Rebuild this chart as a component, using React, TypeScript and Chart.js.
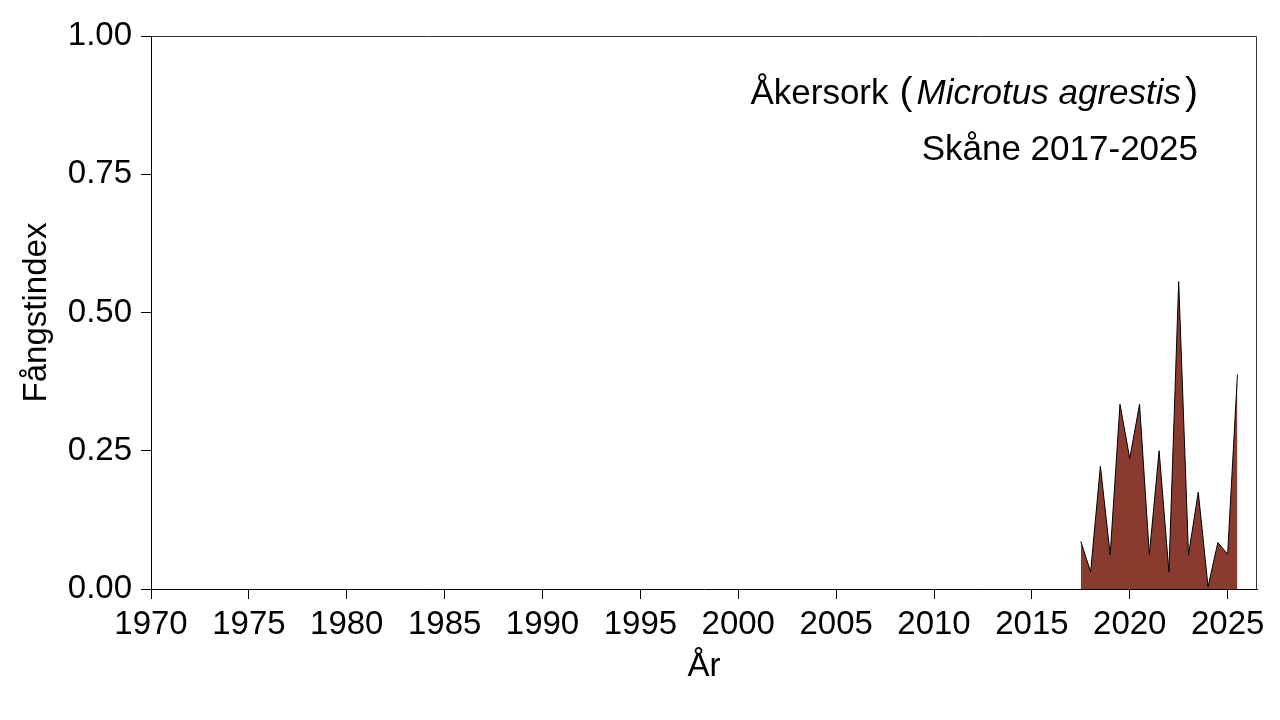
import React, { useEffect, useRef } from "react";
import { Chart, registerables } from "chart.js";

Chart.register(...registerables);

// ---- Data ----
const seasons = [
  2017.5, 2018, 2018.5, 2019, 2019.5, 2020, 2020.5, 2021, 2021.5, 2022,
  2022.5, 2023, 2023.5, 2024, 2024.5, 2025, 2025.5,
];
const indexValues = [
  0.086, 0.031, 0.222, 0.062, 0.334, 0.236, 0.334, 0.062, 0.25, 0.031,
  0.556, 0.062, 0.175, 0.004, 0.084, 0.063, 0.388,
];
const xTickValues = [
  1970, 1975, 1980, 1985, 1990, 1995, 2000, 2005, 2010, 2015, 2020, 2025,
];
const yTickValues = [0, 0.25, 0.5, 0.75, 1];
const titleCommon = "Åkersork";
const titleLatin = "Microtus agrestis";
const subtitle = "Skåne 2017-2025";
const xAxisTitle = "År";
const yAxisTitle = "Fångstindex";

const FONT = '"Liberation Sans", Arial, Helvetica, sans-serif';
const FILL = "#8a3b2f";

const framePlugin = {
  id: "frame",
  afterDraw(chart: any) {
    const { ctx, chartArea } = chart;
    const l = Math.round(chartArea.left) + 0.5;
    const r = Math.round(chartArea.right) - 0.5;
    const t = Math.round(chartArea.top) + 0.5;
    const b = Math.round(chartArea.bottom) + 0.5;
    ctx.save();
    ctx.strokeStyle = "#333";
    ctx.lineWidth = 1;
    ctx.beginPath();
    ctx.moveTo(l, t);
    ctx.lineTo(r, t);
    ctx.lineTo(r, b);
    ctx.stroke();
    ctx.restore();
  },
};

const annotationPlugin = {
  id: "annot",
  afterDraw(chart: any) {
    const { ctx, chartArea } = chart;
    const right = chartArea.right - 59;
    const y1 = chartArea.top + 68;
    const y2 = chartArea.top + 124;
    const fN = `35px ${FONT}`;
    const fI = `italic 35px ${FONT}`;
    const fP = `39px ${FONT}`;
    ctx.save();
    ctx.fillStyle = "#000";
    ctx.textBaseline = "alphabetic";
    ctx.textAlign = "left";
    ctx.font = fP;
    const wR = ctx.measureText(")").width;
    const wL = ctx.measureText("(").width;
    ctx.font = fI;
    const wLat = ctx.measureText(titleLatin).width;
    ctx.font = fN;
    const wCom = ctx.measureText(titleCommon).width;
    let x = right - wR;
    ctx.font = fP;
    ctx.fillText(")", x, y1);
    x -= 4 + wLat;
    ctx.font = fI;
    ctx.fillText(titleLatin, x, y1);
    x -= 4 + wL;
    ctx.font = fP;
    ctx.fillText("(", x, y1);
    x -= 11 + wCom;
    ctx.font = fN;
    ctx.fillText(titleCommon, x, y1);
    ctx.textAlign = "right";
    ctx.fillText(subtitle, right, y2);
    ctx.restore();
  },
};

export default function App() {
  const ref = useRef<HTMLCanvasElement | null>(null);
  useEffect(() => {
    if (!ref.current) return;
    const tickFont = { family: FONT, size: 33 };
    const chart = new Chart(ref.current, {
      type: "line",
      data: {
        datasets: [
          {
            data: seasons.map((s, i) => ({ x: s, y: indexValues[i] })),
            borderColor: "#000",
            borderWidth: 1,
            backgroundColor: FILL,
            fill: "origin",
            pointRadius: 0,
            tension: 0,
          },
        ],
      },
      options: {
        animation: false,
        responsive: false,
        devicePixelRatio: 1,
        layout: { padding: { top: 36, right: 23, left: 0, bottom: 0 } },
        plugins: {
          legend: { display: false },
          tooltip: { enabled: false },
        },
        scales: {
          x: {
            type: "linear",
            min: 1970,
            max: 2026.5,
            afterFit(scale: any) {
              scale.height = 131;
            },
            afterBuildTicks(scale: any) {
              scale.ticks = xTickValues.map((v) => ({ value: v }));
            },
            ticks: {
              color: "#000",
              font: tickFont,
              padding: 6,
              maxRotation: 0,
              autoSkip: false,
              callback: (v: any) => String(v),
            },
            grid: {
              drawOnChartArea: false,
              drawTicks: true,
              tickLength: 10,
              tickColor: "#000",
              color: "#000",
            },
            border: { display: true, color: "#000", width: 1 },
            title: {
              display: true,
              text: xAxisTitle,
              color: "#000",
              font: { family: FONT, size: 33 },
              padding: { top: 0, bottom: 33 },
            },
          },
          y: {
            type: "linear",
            min: 0,
            max: 1,
            afterFit(scale: any) {
              scale.width = 151;
            },
            afterBuildTicks(scale: any) {
              scale.ticks = yTickValues.map((v) => ({ value: v }));
            },
            ticks: {
              color: "#000",
              font: tickFont,
              padding: 9,
              autoSkip: false,
              callback: (v: any) => Number(v).toFixed(2),
            },
            grid: {
              drawOnChartArea: false,
              drawTicks: true,
              tickLength: 10,
              tickColor: "#000",
              color: "#000",
            },
            border: { display: true, color: "#000", width: 1 },
            title: {
              display: true,
              text: yAxisTitle,
              color: "#000",
              font: { family: FONT, size: 33 },
              padding: { top: 17, bottom: 0 },
            },
          },
        },
      },
      plugins: [framePlugin, annotationPlugin],
    });
    return () => chart.destroy();
  }, []);
  return (
    <div style={{ position: "fixed", left: 0, top: 0, width: 1280, height: 720, background: "#fff" }}>
      <canvas ref={ref} width={1280} height={720} style={{ display: "block" }} />
    </div>
  );
}
